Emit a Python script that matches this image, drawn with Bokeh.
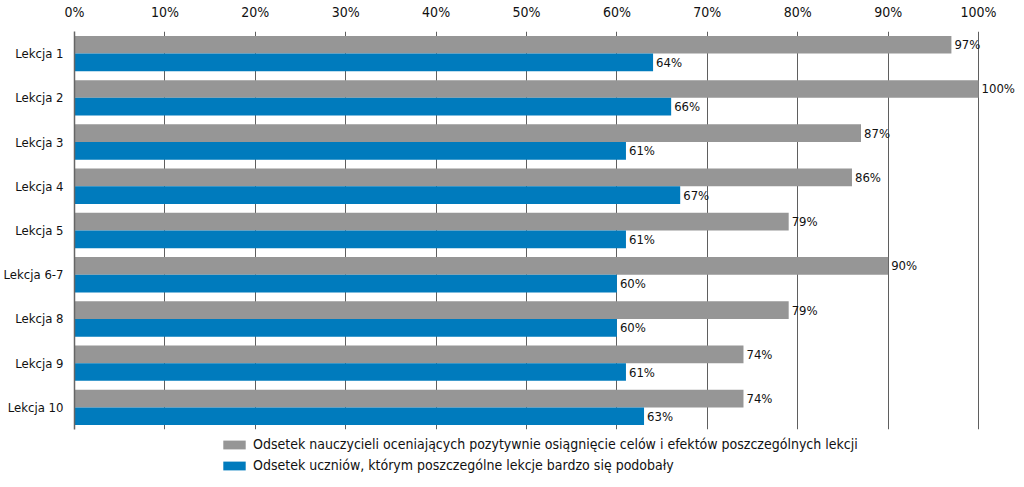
from bokeh.plotting import figure
from bokeh.layouts import column
from bokeh.models import (ColumnDataSource, FactorRange, Range1d, Legend, LegendItem,
                          LinearAxis, FixedTicker, CustomJSTickFormatter)
from bokeh.transform import dodge
from bokeh.core.properties import value
from bokeh.embed import file_html
from bokeh.resources import INLINE

lessons = ["Lekcja 1", "Lekcja 2", "Lekcja 3", "Lekcja 4", "Lekcja 5",
           "Lekcja 6-7", "Lekcja 8", "Lekcja 9", "Lekcja 10"]
teachers = [97, 100, 87, 86, 79, 90, 79, 74, 74]
students = [64, 66, 61, 67, 61, 60, 60, 61, 63]
x_ticks = [0, 10, 20, 30, 40, 50, 60, 70, 80, 90, 100]
label_teachers = "Odsetek nauczycieli oceniających pozytywnie osiągnięcie celów i efektów poszczególnych lekcji"
label_students = "Odsetek uczniów, którym poszczególne lekcje bardzo się podobały"

FONT = "DejaVu Sans Condensed"
GRAY = "#969696"
BLUE = "#007bbd"

src = ColumnDataSource(dict(
    lesson=lessons,
    teachers=teachers,
    students=students,
    t_lab=[f"{v}%" for v in teachers],
    s_lab=[f"{v}%" for v in students],
))

p = figure(frame_width=942, frame_height=398, output_backend="svg", toolbar_location=None,
           y_range=FactorRange(*lessons[::-1], range_padding=0),
           x_range=Range1d(0, 104.2), x_axis_location=None,
           min_border_left=66, min_border_right=0, min_border_top=24, min_border_bottom=6)
p.outline_line_color = None

r_t = p.hbar(y=dodge("lesson", 0.2, range=p.y_range), right="teachers", height=0.4,
             left=0, source=src, color=GRAY, line_color=None)
r_s = p.hbar(y=dodge("lesson", -0.2, range=p.y_range), right="students", height=0.4,
             left=0, source=src, color=BLUE, line_color=None)

p.text(x="teachers", y=dodge("lesson", 0.2, range=p.y_range), text="t_lab", source=src,
       x_offset=3, text_baseline="middle", text_font=value(FONT), text_font_size="13px",
       text_color="#111111")
p.text(x="students", y=dodge("lesson", -0.2, range=p.y_range), text="s_lab", source=src,
       x_offset=3, text_baseline="middle", text_font=value(FONT), text_font_size="13px",
       text_color="#111111")

top = LinearAxis(ticker=FixedTicker(ticks=x_ticks),
                 formatter=CustomJSTickFormatter(code="return tick + '%'"))
top.axis_line_color = None
top.major_tick_line_color = None
top.minor_tick_line_color = None
top.major_label_text_font = FONT
top.major_label_text_font_size = "14px"
top.major_label_text_color = "#111111"
top.major_label_standoff = 6
p.add_layout(top, "above")

p.xgrid.ticker = FixedTicker(ticks=x_ticks)
p.xgrid.grid_line_color = "#5f5f5f"
p.xgrid.grid_line_width = 1
p.ygrid.grid_line_color = None

p.yaxis.axis_line_color = "#666666"
p.yaxis.axis_line_width = 1.5
p.yaxis.major_tick_line_color = None
p.yaxis.minor_tick_line_color = None
p.yaxis.major_label_text_font = FONT
p.yaxis.major_label_text_font_size = "13px"
p.yaxis.major_label_text_color = "#111111"
p.yaxis.major_label_standoff = 5

# legend panel (its frame is aligned with the chart's frame by the column layout)
lg = figure(width=1008, height=40, output_backend="svg", toolbar_location=None,
            x_range=Range1d(0, 1), y_range=Range1d(0, 1),
            x_axis_location=None, y_axis_location=None,
            min_border=0, min_border_left=0, min_border_right=0,
            min_border_top=0, min_border_bottom=0)
lg.grid.visible = False
lg.outline_line_color = None
lt = lg.hbar(y=[-5], right=[0], height=0.4, color=GRAY, line_color=None)
ls = lg.hbar(y=[-5], right=[0], height=0.4, color=BLUE, line_color=None)
legend = Legend(items=[LegendItem(label=label_teachers, renderers=[lt]),
                       LegendItem(label=label_students, renderers=[ls])],
                location=(146, 1), orientation="vertical",
                label_text_font=FONT, label_text_font_size="14px", label_text_color="#111111",
                glyph_width=28, glyph_height=11, label_height=18, spacing=3, padding=0,
                label_standoff=5, border_line_color=None, background_fill_alpha=0,
                margin=0)
lg.add_layout(legend)

open("out.html", "w").write(file_html(column(p, lg, spacing=0), INLINE))
